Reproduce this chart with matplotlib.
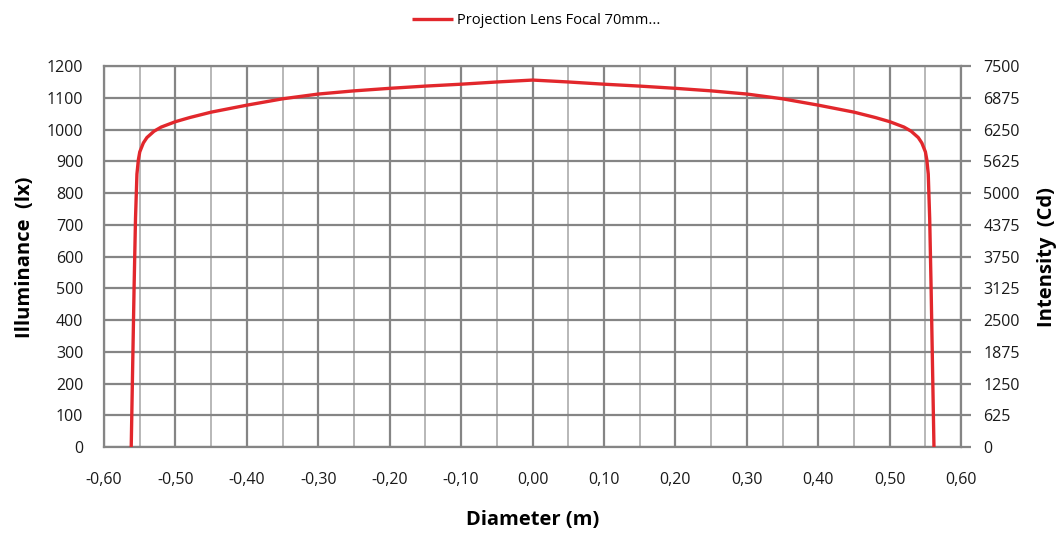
import matplotlib
matplotlib.use("Agg")
import matplotlib.pyplot as plt
from matplotlib.ticker import FuncFormatter, MultipleLocator

plt.rcParams['font.family'] = ['Open Sans', 'DejaVu Sans']

# illuminance profile across the projected spot
diameter = [-0.562, -0.560, -0.558, -0.556, -0.554, -0.552, -0.550, -0.545, -0.540,
            -0.530, -0.520, -0.500, -0.480, -0.450, -0.400, -0.350, -0.300, -0.250,
            -0.200, -0.150, -0.100, -0.050, 0.000,
            0.050, 0.100, 0.150, 0.200, 0.250, 0.300, 0.350, 0.400, 0.450, 0.480,
            0.500, 0.520, 0.530, 0.540, 0.545, 0.550, 0.552, 0.554, 0.556, 0.558,
            0.560, 0.562]
illuminance = [0, 250, 500, 720, 860, 905, 930, 958, 975,
               995, 1008, 1025, 1038, 1055, 1077, 1097, 1112, 1122,
               1130, 1137, 1143, 1150, 1156,
               1150, 1143, 1137, 1130, 1122, 1112, 1097, 1077, 1055, 1038,
               1025, 1008, 995, 975, 958, 930, 905, 860, 720, 500,
               250, 0]

series_label = 'Projection Lens Focal 70mm...'
x_label = 'Diameter (m)'
y_label = 'Illuminance  (lx)'
y2_label = 'Intensity  (Cd)'

fig = plt.figure(figsize=(10.62, 5.33), dpi=100)
ax = fig.add_axes([0.098, 0.161, 0.807, 0.715])

line, = ax.plot(diameter, illuminance, color='#e2272c', linewidth=2.4,
                solid_capstyle='butt', zorder=5, label=series_label)

ax.set_xlim(-0.6, 0.6)
ax.set_ylim(0, 1200)
ax.xaxis.set_major_locator(MultipleLocator(0.1))
ax.xaxis.set_minor_locator(MultipleLocator(0.05))
ax.yaxis.set_major_locator(MultipleLocator(100))
ax.xaxis.set_major_formatter(FuncFormatter(lambda v, p: f'{v:.2f}'.replace('.', ',').replace('-0,00', '0,00')))

ax.grid(which='major', color='#858585', linewidth=1.6)
ax.grid(which='minor', axis='x', color='#b8b8b8', linewidth=1.4)
ax.set_axisbelow(True)
for s in ax.spines.values():
    s.set_color('#858585')
    s.set_linewidth(1.6)
ax.tick_params(which='both', length=0, labelsize=11.5, colors='#1a1a1a')
ax.tick_params(axis='x', pad=18)
ax.tick_params(axis='y', pad=15)

ax.set_xlabel(x_label, fontsize=14.5, fontweight='bold', labelpad=16)

ax2 = ax.twinx()
ax2.set_ylim(0, 7500)
ax2.yaxis.set_major_locator(MultipleLocator(625))
ax2.tick_params(axis='y', length=7, width=1.6, color='#858585', labelsize=11.5,
                labelcolor='#1a1a1a', pad=9)
for s in ax2.spines.values():
    s.set_visible(False)

# axis titles placed in figure coordinates
fig.text(0.0235, 0.518, y_label, rotation=90, ha='center', va='center',
         fontsize=14.5, fontweight='bold')
fig.text(0.986, 0.518, y2_label, rotation=90, ha='center', va='center',
         fontsize=14.5, fontweight='bold')

fig.legend(handles=[line], loc='upper center', bbox_to_anchor=(0.505, 1.0),
           frameon=False, fontsize=10.5, handlelength=2.8, handletextpad=0.3)

fig.savefig('out.png', dpi=100)
